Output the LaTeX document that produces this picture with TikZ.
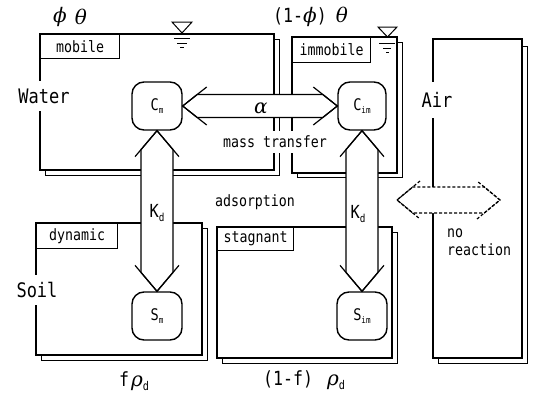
\documentclass[tikz,border=0pt]{standalone}
\usepackage{fontspec}
\setmainfont[FakeStretch=0.85]{DejaVu Sans Mono}
\newfontfamily\grkfont{DejaVu Serif}
\usetikzlibrary{calc}

\newcommand\sbs[2][9]{\raisebox{-0.22em}{\fontsize{#1}{#1}\selectfont #2}}
\newcommand\gk[1]{{\grkfont\itshape\fontsize{20}{20}\selectfont #1}}
\newcommand\blkarrow[6][]{%
  \pgfmathsetmacro\hsv{#4*#6/#5}%
  \filldraw[fill=white,line width=1.2pt,line join=miter,#1] (#2) -- ($(#2)!\hsv pt!(#3)!#6pt!90:(#3)$) -- ($(#3)!\hsv pt!(#2)!#6pt!-90:(#2)$) -- (#3) -- ($(#3)!\hsv pt!(#2)!#6pt!90:(#2)$) -- ($(#2)!\hsv pt!(#3)!#6pt!-90:(#3)$) -- cycle;
  \draw[line width=1.2pt,#1] ($(#2)!#4pt!(#3)!#5pt!90:(#3)$) -- (#2) -- ($(#2)!#4pt!(#3)!#5pt!-90:(#3)$);
  \draw[line width=1.2pt,#1] ($(#3)!#4pt!(#2)!#5pt!90:(#2)$) -- (#3) -- ($(#3)!#4pt!(#2)!#5pt!-90:(#2)$);
}

\tikzset{
  bx/.style={line width=1.2pt},
  shd/.style={line width=1pt},
  lvl/.style={line width=1pt},
  cbox/.style={draw, line width=1.4pt, rounded corners=12pt, minimum width=50pt, minimum height=48pt, fill=white, inner sep=0pt, font=\fontsize{16}{16}\selectfont},
  tagbox/.style={draw, line width=1.2pt, anchor=north west, inner sep=0pt, fill=white, font=\fontsize{15.6}{15.6}\selectfont},
  txt/.style={font=\fontsize{15.6}{18}\selectfont, inner sep=1pt},
  bigtxt/.style={font=\fontsize{20}{20}\selectfont, fill=white, inner xsep=1pt},
  gr/.style={font=\fontsize{19.5}{19.5}\selectfont, inner sep=0pt},
}

\begin{document}
\begin{tikzpicture}[x=1pt,y=-1pt]
\fill[white] (0,0) rectangle (539,399);
\useasboundingbox (0,0) rectangle (539,399);

% boxes with back sheets
\draw[shd] (274,39) -- (279,39) -- (279,175) -- (45,175) -- (45,170);
\draw[bx] (40,34) rectangle (274,170);
\draw[shd] (397,42) -- (402,42) -- (402,177) -- (297,177) -- (297,173);
\draw[bx] (292,37) rectangle (397,173);
\draw[shd] (202,228) -- (207,228) -- (207,360) -- (41,360) -- (41,355);
\draw[bx] (36,223) rectangle (202,355);
\draw[shd] (392,232) -- (397,232) -- (397,363) -- (222,363) -- (222,358);
\draw[bx] (217,227) rectangle (392,358);
\draw[shd] (522,46) -- (527,46) -- (527,363) -- (438,363) -- (438,358);
\draw[bx] (433,39) rectangle (522,358);

% water level marks
\draw[lvl] (172,22) -- (192,22) -- (182,33) -- cycle;
\draw[lvl] (174,38) -- (190,38) (177,43) -- (187,43) (180,47) -- (184,47);
\draw[lvl] (378,27) -- (397,27) -- (387.5,37) -- cycle;
\draw[lvl] (379,43) -- (395,43) (383,48) -- (391,48) (386,52) -- (389,52);

% tags
\node[tagbox, minimum width=79pt, minimum height=24pt] (tmob) at (40,34) {mobile};
\node[tagbox, minimum width=78pt, minimum height=25pt] (timm) at (292,37) {immobile};
\node[tagbox, minimum width=81pt, minimum height=25pt] (tdyn) at (36,223) {dynamic};
\node[tagbox, minimum width=76pt, minimum height=23pt] (tsta) at (217,227) {stagnant};

% concentration nodes
\node[cbox] (Cm) at (157,106) {C\sbs{m}};
\node[cbox, minimum width=48pt] (Cim) at (362,106) {C\sbs{im}};
\node[cbox] (Sm) at (157,316) {S\sbs{m}};
\node[cbox] (Sim) at (362,316) {S\sbs{im}};

% arrows
\blkarrow{Cm.east}{Cim.west}{24}{19}{11.5}
\blkarrow{Cm.south}{Sm.north}{26}{22}{16}
\blkarrow{Cim.south}{Sim.north}{26}{22}{16}
\coordinate (aL) at (397,200);
\coordinate (aR) at (500,200);
\blkarrow[dash pattern=on 3pt off 2pt]{aL}{aR}{23}{19}{13}

% texts
\node[bigtxt, inner ysep=8pt] (water) at (44,96) {Water};
\node[bigtxt, inner ysep=7pt] (soil) at (37,290) {Soil};
\node[bigtxt, inner ysep=10pt] (air) at (437,100) {Air};
\node[txt, fill=white, inner ysep=5pt] (mt) at (275,142) {mass transfer};
\node[txt] (ads) at (255,202) {adsorption};
\node[txt, align=left, anchor=north west] (nr) at (446,228) {no\\reaction};
\node[inner sep=0pt] (al) at (261,108) {\gk{α}};
\node[font=\fontsize{18}{18}\selectfont, inner sep=0pt] (kd1) at (157,213) {K\sbs[11]{d}};
\node[font=\fontsize{18}{18}\selectfont, inner sep=0pt] (kd2) at (358,214) {K\sbs[11]{d}};
\node[inner sep=0pt] (phi1) at (60,17) {\gk{ϕ}};
\node[inner sep=0pt] (th1) at (81,17) {\gk{θ}};
\node[gr, anchor=west] (top2) at (273,17) {(1-\gk{ϕ})\hspace{9pt}\gk{θ}};
\node[gr, anchor=west] (bot1) at (119,381) {f\hspace{2pt}\gk{ρ}\sbs[12]{d}};
\node[gr, anchor=west] (bot2) at (263,380) {(1-f)\hspace{14pt}\gk{ρ}\sbs[12]{d}};
\end{tikzpicture}
\end{document}
